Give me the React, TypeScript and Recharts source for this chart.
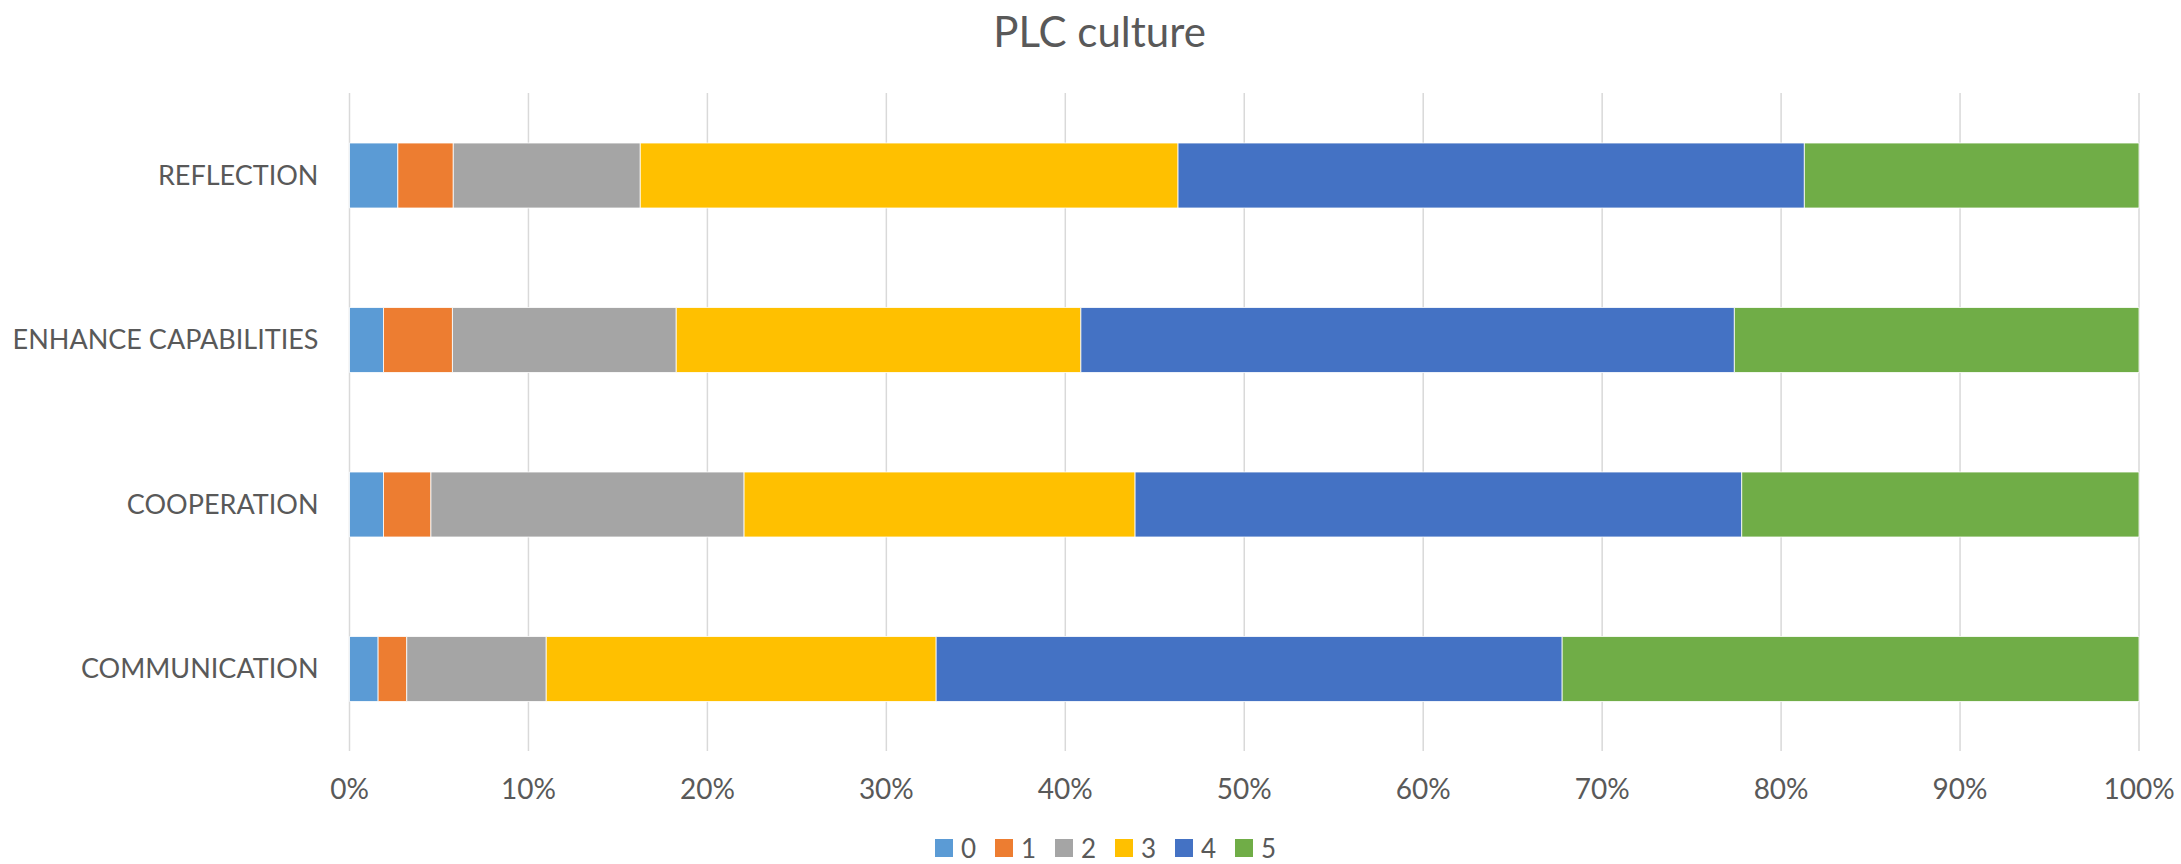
import React from 'react';
import { BarChart, Bar, XAxis, YAxis, CartesianGrid } from 'recharts';

const categories = ['REFLECTION', 'ENHANCE CAPABILITIES', 'COOPERATION', 'COMMUNICATION'];
const seriesNames = ['0', '1', '2', '3', '4', '5'];
const score0 = [2.7, 1.9, 1.9, 1.6];
const score1 = [3.1, 3.85, 2.65, 1.6];
const score2 = [10.45, 12.5, 17.5, 7.8];
const score3 = [30.05, 22.6, 21.85, 21.8];
const score4 = [35.0, 36.5, 33.9, 35.0];
const score5 = [18.7, 22.6, 22.2, 32.25];
const xTicks = [0, 0.1, 0.2, 0.3, 0.4, 0.5, 0.6, 0.7, 0.8, 0.9, 1];

const COLORS = ['#5B9BD5', '#ED7D31', '#A5A5A5', '#FFC000', '#4472C4', '#70AD47'];
const TEXT = '#595959';
const FONT = 'Lato, "Open Sans", sans-serif';

const allScores = [score0, score1, score2, score3, score4, score5];
const data = categories.map((name, i) => {
  const row: Record<string, string | number> = { name };
  seriesNames.forEach((s, j) => {
    row[s] = allScores[j][i];
  });
  return row;
});

export default function App() {
  return (
    <div style={{ position: 'absolute', left: 0, top: 0, width: 2181, height: 864, background: '#fff', fontFamily: FONT, overflow: 'hidden' }}>
      {/* title */}
      <div
        style={{
          position: 'absolute',
          left: 18,
          top: 10,
          width: 2163,
          textAlign: 'center',
          fontSize: 42,
          lineHeight: '42px',
          color: TEXT,
        }}
      >
        PLC culture
      </div>

      <div style={{ position: 'absolute', left: 0, top: 0 }}>
        <BarChart
          width={2181}
          height={864}
          data={data}
          layout="vertical"
          stackOffset="expand"
          margin={{ top: 93, right: 42, bottom: 0, left: 0 }}
        >
          <CartesianGrid horizontal={false} stroke="#D9D9D9" strokeWidth={1.5} />
          <XAxis
            type="number"
            domain={[0, 1]}
            ticks={xTicks}
            tickFormatter={(v: number) => `${Math.round(v * 100)}%`}
            axisLine={false}
            tickLine={false}
            tickSize={0}
            tickMargin={28}
            height={113}
            interval={0}
            tick={{ fill: TEXT, fontSize: 28, fontFamily: FONT }}
          />
          <YAxis
            type="category"
            dataKey="name"
            width={349.5}
            axisLine={false}
            tickLine={false}
            tickSize={0}
            tickMargin={31}
            interval={0}
            tick={{ fill: TEXT, fontSize: 27, fontFamily: FONT }}
          />
          {seriesNames.map((s, i) => (
            <Bar
              key={s}
              dataKey={s}
              stackId="a"
              fill={COLORS[i]}
              stroke="#ffffff"
              strokeWidth={0.8}
              barSize={65}
              isAnimationActive={false}
            />
          ))}
        </BarChart>
      </div>

      {/* legend */}
      <div style={{ position: 'absolute', left: 935, top: 834, height: 28, display: 'flex', alignItems: 'center' }}>
        {seriesNames.map((s, i) => (
          <div key={s} style={{ display: 'flex', alignItems: 'center', width: 60, height: 28 }}>
            <div style={{ width: 18, height: 18, background: COLORS[i], marginRight: 8 }} />
            <span style={{ fontSize: 26, lineHeight: '28px', color: TEXT }}>{s}</span>
          </div>
        ))}
      </div>
    </div>
  );
}
